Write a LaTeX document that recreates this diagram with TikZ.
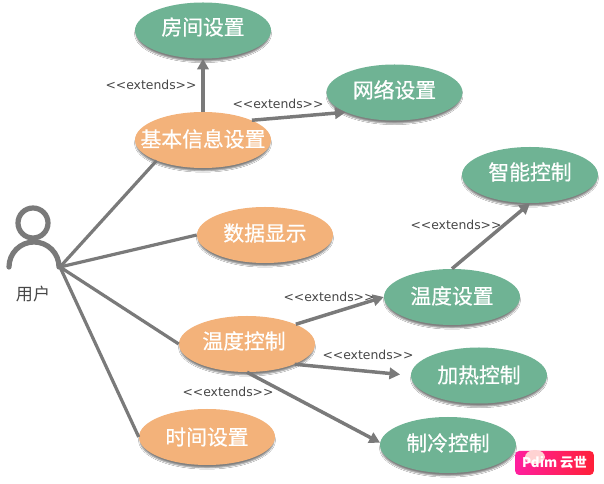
\documentclass[tikz,border=0pt]{standalone}
\usepackage{fontspec}
\setmainfont{Noto Sans CJK SC}
\newfontfamily\ucfont[FakeBold=0.6]{Noto Sans CJK SC}
\newfontfamily\latinlabel{DejaVu Sans}
\usetikzlibrary{shapes.geometric,arrows.meta,shadows.blur}
\definecolor{gr}{HTML}{6FB394}
\definecolor{org}{HTML}{F3B27A}
\definecolor{ln}{HTML}{7A7A7A}
\definecolor{wmA}{HTML}{FF1F9E}
\definecolor{wmB}{HTML}{FF2038}
\newcommand{\uctext}[2][-5pt]{\raisebox{#1}[0pt][0pt]{\makebox[0pt][c]{#2}}}
\tikzset{
 x=0.75pt,y=-0.75pt,
 uc/.style={ellipse,inner sep=0pt,minimum width=102pt,minimum height=42pt,text=white,
   font=\ucfont\fontsize{15.6}{18}\selectfont,
   blur shadow={shadow xshift=0pt,shadow yshift=-2.4pt,shadow blur radius=1.1pt,shadow opacity=50,shadow scale=0.985}},
 ucg/.style={uc,fill=gr},
 uco/.style={uc,fill=org},
 assoc/.style={ln,line width=2.4pt},
 ext/.style={ln,line width=2.6pt,-{Triangle[length=8pt,width=8.5pt]}},
 stereo/.style={text=black!72,inner sep=0pt,font=\latinlabel\fontsize{9.3}{11}\selectfont},
 actorline/.style={ln,line width=3.9pt,line cap=round},
}
\begin{document}
\begin{tikzpicture}
\useasboundingbox (0,0) rectangle (604,484);
\fill[white] (0,0) rectangle (604,484);
% use cases
\node[ucg] (fj) at (203,30.5) {\uctext[-3.3pt]{房间设置}};
\node[ucg] (wl) at (394.5,92.5) {\uctext[-4pt]{网络设置}};
\node[uco] (jb) at (203,140) {\uctext[-5.15pt]{基本信息设置}};
\node[uco] (sj) at (265,235) {\uctext[-4.4pt]{数据显示}};
\node[uco] (wk) at (247,344) {\uctext[-3.65pt]{温度控制\hspace{4.5pt}}};
\node[uco] (tm) at (207,437) {\uctext[-5.9pt]{时间设置}};
\node[ucg] (zn) at (530,175) {\uctext[-3.65pt]{智能控制}};
\node[ucg] (wd) at (452,297) {\uctext[-5.15pt]{温度设置}};
\node[ucg] (jr) at (479,375.5) {\uctext[-5.5pt]{加热控制}};
\node[ucg] (zl) at (448,445) {\uctext[-4.4pt]{制冷控制}};
% actor
\draw[actorline] (33,223) circle[radius=15];
\draw[actorline] (9,267) arc[start angle=180,end angle=360,x radius=25,y radius=25];
\coordinate (user) at (60,267);
\node[inner sep=0pt,text=black!72,font=\fontsize{12.8}{15}\selectfont] (ul) at (33,294) {用户};
% associations
\draw[assoc] (user) -- (jb.204);
\draw[assoc] (user) -- (sj.180);
\draw[assoc] (user) -- (wk.180);
\draw[assoc] (user) -- (tm.180);
% extends
\draw[ext] (jb.90) -- (fj.-90);
\draw[ext] (jb.22) -- (wl.202);
\draw[ext] (wk.22) -- (wd.180);
\draw[ext,shorten >=8pt] (wk.-23) -- (jr.180);
\draw[ext] (wk.-90) -- (zl.178);
\draw[ext] (wd.90) -- (zn.-90);
% labels
\node[stereo] (e1) at (151,85) {<{}<extends>{}>};
\node[stereo] (e2) at (278,104) {<{}<extends>{}>};
\node[stereo] (e3) at (456,225) {<{}<extends>{}>};
\node[stereo] (e4) at (329,297) {<{}<extends>{}>};
\node[stereo] (e5) at (368,355) {<{}<extends>{}>};
\node[stereo] (e6) at (228,392) {<{}<extends>{}>};
% watermark
\node[rounded corners=3pt,left color=wmA,right color=wmB,minimum width=59pt,minimum height=18pt,inner sep=0pt] (wm) at (554.5,463) {};
\fill[pink!70!white] (535,457) ellipse[x radius=10,y radius=7];
\node[inner sep=0pt,text=white,font=\fontsize{10}{11}\selectfont\bfseries] (wt) at (wm.center) {Pdim 云世};
\end{tikzpicture}
\end{document}
